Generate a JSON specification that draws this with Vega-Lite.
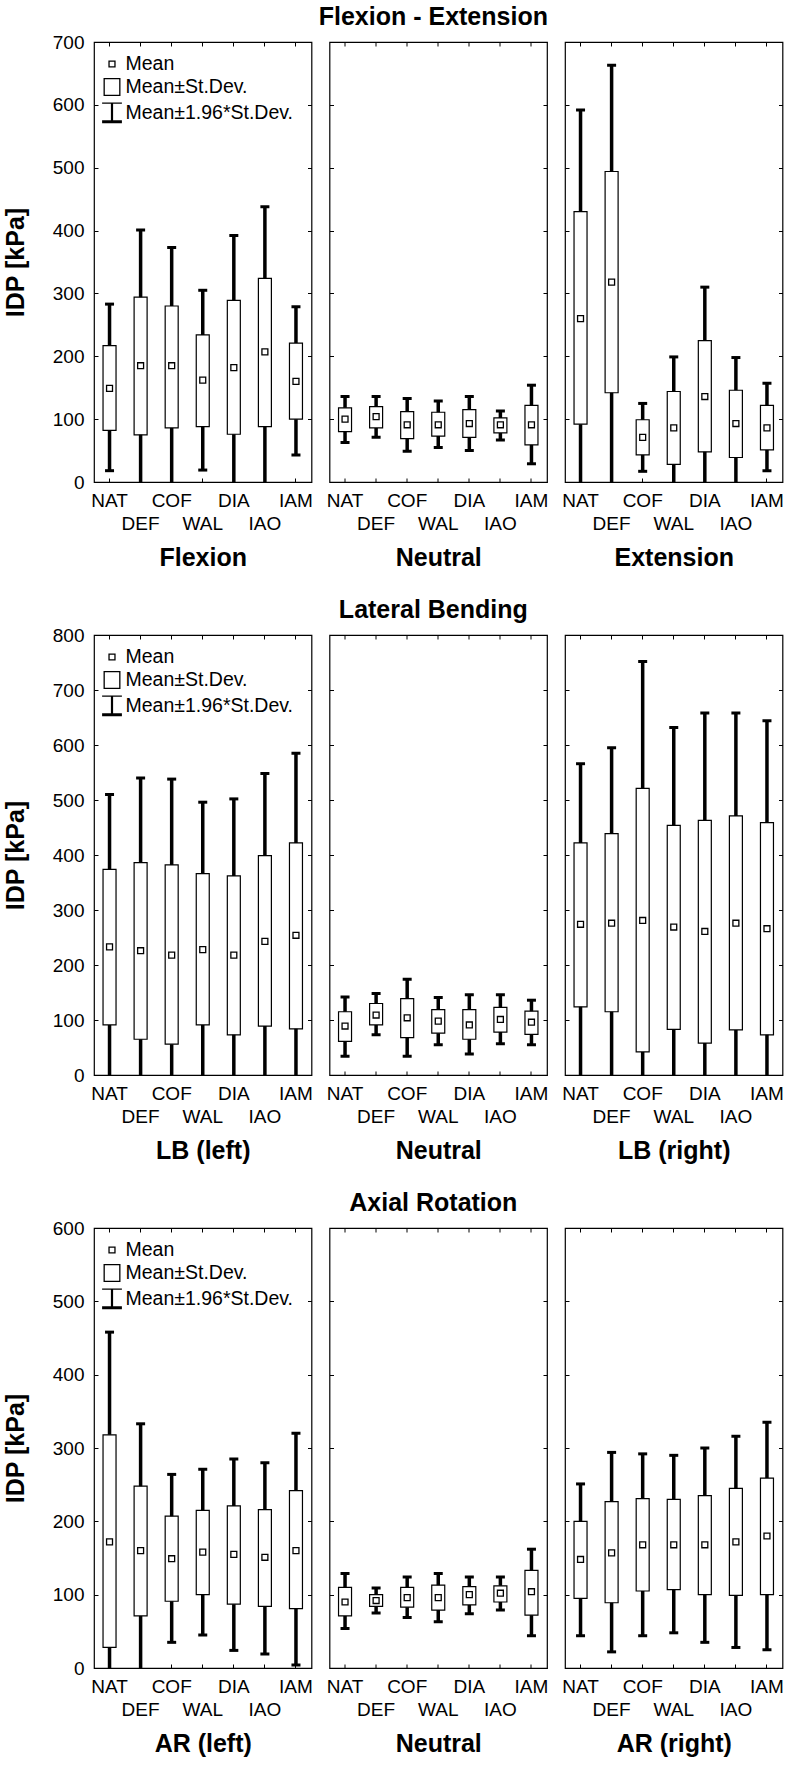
{
  "$schema": "https://vega.github.io/schema/vega-lite/v6.json",
  "padding": {"left": 2, "top": 5, "right": 0, "bottom": 0},
  "background": "white",
  "datasets": {
    "d": [
      {"g":"FE","p":"L","c":"NAT","m":149,"sl":82,"sh":217,"wl":18,"wh":283},
      {"g":"FE","p":"L","c":"DEF","m":185,"sl":75,"sh":294,"wl":-30,"wh":401},
      {"g":"FE","p":"L","c":"COF","m":185,"sl":86,"sh":280,"wl":-8,"wh":373},
      {"g":"FE","p":"L","c":"WAL","m":162,"sl":88,"sh":234,"wl":19,"wh":305},
      {"g":"FE","p":"L","c":"DIA","m":182,"sl":76,"sh":289,"wl":-35,"wh":392},
      {"g":"FE","p":"L","c":"IAO","m":207,"sl":88,"sh":324,"wl":-25,"wh":438},
      {"g":"FE","p":"L","c":"IAM","m":160,"sl":100,"sh":221,"wl":43,"wh":279},
      {"g":"FE","p":"N","c":"NAT","m":100,"sl":80,"sh":118,"wl":63,"wh":136},
      {"g":"FE","p":"N","c":"DEF","m":104,"sl":86,"sh":120,"wl":71,"wh":136},
      {"g":"FE","p":"N","c":"COF","m":91,"sl":69,"sh":112,"wl":49,"wh":133},
      {"g":"FE","p":"N","c":"WAL","m":91,"sl":73,"sh":111,"wl":55,"wh":129},
      {"g":"FE","p":"N","c":"DIA","m":93,"sl":71,"sh":115,"wl":50,"wh":136},
      {"g":"FE","p":"N","c":"IAO","m":91,"sl":78,"sh":102,"wl":67,"wh":113},
      {"g":"FE","p":"N","c":"IAM","m":91,"sl":59,"sh":122,"wl":29,"wh":154},
      {"g":"FE","p":"R","c":"NAT","m":260,"sl":92,"sh":430,"wl":-70,"wh":592},
      {"g":"FE","p":"R","c":"DEF","m":318,"sl":142,"sh":494,"wl":-30,"wh":663},
      {"g":"FE","p":"R","c":"COF","m":71,"sl":43,"sh":99,"wl":17,"wh":125},
      {"g":"FE","p":"R","c":"WAL","m":86,"sl":28,"sh":144,"wl":-27,"wh":199},
      {"g":"FE","p":"R","c":"DIA","m":136,"sl":48,"sh":225,"wl":-40,"wh":310},
      {"g":"FE","p":"R","c":"IAO","m":93,"sl":39,"sh":146,"wl":-12,"wh":198},
      {"g":"FE","p":"R","c":"IAM","m":86,"sl":51,"sh":122,"wl":18,"wh":157},
      {"g":"LB","p":"L","c":"NAT","m":233,"sl":91,"sh":374,"wl":-45,"wh":510},
      {"g":"LB","p":"L","c":"DEF","m":226,"sl":65,"sh":386,"wl":-90,"wh":540},
      {"g":"LB","p":"L","c":"COF","m":218,"sl":56,"sh":382,"wl":-100,"wh":538},
      {"g":"LB","p":"L","c":"WAL","m":228,"sl":91,"sh":366,"wl":-40,"wh":496},
      {"g":"LB","p":"L","c":"DIA","m":218,"sl":73,"sh":362,"wl":-65,"wh":502},
      {"g":"LB","p":"L","c":"IAO","m":243,"sl":89,"sh":399,"wl":-60,"wh":548},
      {"g":"LB","p":"L","c":"IAM","m":254,"sl":84,"sh":422,"wl":-75,"wh":585},
      {"g":"LB","p":"N","c":"NAT","m":89,"sl":61,"sh":115,"wl":34,"wh":142},
      {"g":"LB","p":"N","c":"DEF","m":109,"sl":91,"sh":130,"wl":73,"wh":148},
      {"g":"LB","p":"N","c":"COF","m":104,"sl":68,"sh":139,"wl":34,"wh":174},
      {"g":"LB","p":"N","c":"WAL","m":98,"sl":76,"sh":119,"wl":55,"wh":141},
      {"g":"LB","p":"N","c":"DIA","m":91,"sl":65,"sh":119,"wl":38,"wh":146},
      {"g":"LB","p":"N","c":"IAO","m":101,"sl":78,"sh":123,"wl":57,"wh":146},
      {"g":"LB","p":"N","c":"IAM","m":96,"sl":74,"sh":116,"wl":55,"wh":136},
      {"g":"LB","p":"R","c":"NAT","m":274,"sl":124,"sh":422,"wl":-20,"wh":566},
      {"g":"LB","p":"R","c":"DEF","m":276,"sl":115,"sh":439,"wl":-40,"wh":595},
      {"g":"LB","p":"R","c":"COF","m":281,"sl":42,"sh":521,"wl":-190,"wh":752},
      {"g":"LB","p":"R","c":"WAL","m":269,"sl":83,"sh":454,"wl":-95,"wh":632},
      {"g":"LB","p":"R","c":"DIA","m":261,"sl":58,"sh":463,"wl":-135,"wh":658},
      {"g":"LB","p":"R","c":"IAO","m":276,"sl":82,"sh":471,"wl":-105,"wh":658},
      {"g":"LB","p":"R","c":"IAM","m":266,"sl":73,"sh":459,"wl":-110,"wh":644},
      {"g":"AR","p":"L","c":"NAT","m":172,"sl":28,"sh":318,"wl":-110,"wh":458},
      {"g":"AR","p":"L","c":"DEF","m":160,"sl":71,"sh":248,"wl":-12,"wh":333},
      {"g":"AR","p":"L","c":"COF","m":149,"sl":91,"sh":207,"wl":35,"wh":264},
      {"g":"AR","p":"L","c":"WAL","m":158,"sl":100,"sh":215,"wl":45,"wh":271},
      {"g":"AR","p":"L","c":"DIA","m":155,"sl":87,"sh":221,"wl":24,"wh":285},
      {"g":"AR","p":"L","c":"IAO","m":151,"sl":84,"sh":216,"wl":19,"wh":280},
      {"g":"AR","p":"L","c":"IAM","m":160,"sl":81,"sh":242,"wl":4,"wh":320},
      {"g":"AR","p":"N","c":"NAT","m":90,"sl":71,"sh":110,"wl":54,"wh":129},
      {"g":"AR","p":"N","c":"DEF","m":92,"sl":84,"sh":100,"wl":75,"wh":109},
      {"g":"AR","p":"N","c":"COF","m":96,"sl":83,"sh":110,"wl":69,"wh":124},
      {"g":"AR","p":"N","c":"WAL","m":96,"sl":79,"sh":113,"wl":63,"wh":129},
      {"g":"AR","p":"N","c":"DIA","m":100,"sl":86,"sh":111,"wl":74,"wh":124},
      {"g":"AR","p":"N","c":"IAO","m":102,"sl":90,"sh":112,"wl":79,"wh":124},
      {"g":"AR","p":"N","c":"IAM","m":104,"sl":72,"sh":133,"wl":44,"wh":162},
      {"g":"AR","p":"R","c":"NAT","m":148,"sl":95,"sh":200,"wl":44,"wh":251},
      {"g":"AR","p":"R","c":"DEF","m":157,"sl":89,"sh":227,"wl":22,"wh":294},
      {"g":"AR","p":"R","c":"COF","m":168,"sl":105,"sh":231,"wl":44,"wh":292},
      {"g":"AR","p":"R","c":"WAL","m":168,"sl":107,"sh":230,"wl":48,"wh":290},
      {"g":"AR","p":"R","c":"DIA","m":168,"sl":100,"sh":235,"wl":35,"wh":300},
      {"g":"AR","p":"R","c":"IAO","m":172,"sl":99,"sh":245,"wl":28,"wh":316},
      {"g":"AR","p":"R","c":"IAM","m":180,"sl":100,"sh":259,"wl":25,"wh":335}
    ]
  },
  "data": {"name": "d"},
  "spacing": 27,
  "resolve": {"scale": {"shape": "independent", "y": "independent", "x": "independent"}, "legend": {"shape": "independent"}},
  "vconcat": [
    {
      "title": {"text": "Flexion - Extension", "anchor": "middle", "baseline": "alphabetic", "offset": -18, "dx": 40},
      "bounds": "flush",
      "spacing": 17.5,
      "resolve": {"scale": {"shape": "independent", "y": "independent", "x": "independent"}, "legend": {"shape": "independent"}},
      "hconcat": [
        {
          "width": 217.5, "height": 440,
          "transform": [{"filter": "datum.g == 'FE' && datum.p == 'L'"}],
          "layer": [
            {"mark": {"type": "rule", "strokeWidth": 3.5, "color": "black", "clip": true},
             "encoding": {
               "x": {"field": "c", "type": "nominal", "sort": ["NAT","DEF","COF","WAL","DIA","IAO","IAM"], "scale": {"type": "band", "paddingInner": 0, "paddingOuter": 0},
                     "axis": {"title": "Flexion", "labelExpr": "indexof(['DEF','WAL','IAO'], datum.label) >= 0 ? ['', datum.label] : datum.label", "labelLineHeight": 23, "labelPadding": 13, "labelAngle": 0, "titlePadding": 12}},
               "y": {"field": "wl", "type": "quantitative", "scale": {"domain": [0, 700], "nice": false, "zero": false},
                     "axis": {"title": "IDP [kPa]", "values": [0,100,200,300,400,500,600,700], "labelPadding": 14, "titlePadding": 24}},
               "y2": {"field": "wh"}}},
            {"mark": {"type": "tick", "thickness": 3, "size": 9, "color": "black", "opacity": 1, "clip": true},
             "encoding": {
               "x": {"field": "c", "type": "nominal", "sort": ["NAT","DEF","COF","WAL","DIA","IAO","IAM"], "scale": {"type": "band", "paddingInner": 0, "paddingOuter": 0}, "axis": null},
               "y": {"field": "wh", "type": "quantitative", "scale": {"domain": [0, 700], "nice": false, "zero": false}, "axis": null}}},
            {"mark": {"type": "tick", "thickness": 3, "size": 9, "color": "black", "opacity": 1, "clip": true},
             "encoding": {
               "x": {"field": "c", "type": "nominal", "sort": ["NAT","DEF","COF","WAL","DIA","IAO","IAM"], "scale": {"type": "band", "paddingInner": 0, "paddingOuter": 0}, "axis": null},
               "y": {"field": "wl", "type": "quantitative", "scale": {"domain": [0, 700], "nice": false, "zero": false}, "axis": null}}},
            {"mark": {"type": "bar", "width": 13, "fill": "white", "stroke": "black", "strokeWidth": 1.2, "clip": true},
             "encoding": {
               "x": {"field": "c", "type": "nominal", "sort": ["NAT","DEF","COF","WAL","DIA","IAO","IAM"], "scale": {"type": "band", "paddingInner": 0, "paddingOuter": 0},
                     "axis": {"orient": "top", "labels": false, "title": null}},
               "y": {"field": "sl", "type": "quantitative", "scale": {"domain": [0, 700], "nice": false, "zero": false},
                     "axis": {"orient": "right", "labels": false, "title": null, "values": [0,100,200,300,400,500,600,700]}},
               "y2": {"field": "sh"}}},
            {"mark": {"type": "point", "size": 324, "filled": false, "color": "black", "strokeWidth": 1.3, "opacity": 1},
             "encoding": {
               "x": {"field": "c", "type": "nominal", "sort": ["NAT","DEF","COF","WAL","DIA","IAO","IAM"], "scale": {"type": "band", "paddingInner": 0, "paddingOuter": 0}, "axis": null},
               "y": {"field": "m", "type": "quantitative", "scale": {"domain": [0, 700], "nice": false, "zero": false}, "axis": null},
               "shape": {"datum": "Mean", "scale": {"domain": ["Mean", "Mean±St.Dev.", "Mean±1.96*St.Dev."], "range": ["M-0.33,-0.33H0.33V0.33H-0.33Z", "M-0.87,-0.93H0.87V0.93H-0.87Z", "M-1.1,-1.1H1.1M-0.05,-1.1V1.1M0.05,-1.1V1.1M-1.1,0.88H1.1M-1.1,0.98H1.1M-1.1,1.08H1.1"]},
                         "legend": {"title": null, "orient": "none", "legendX": 8, "legendY": 12}}}}
          ],
          "resolve": {"axis": {"x": "independent", "y": "independent"}}
        },
        {
          "width": 217.5, "height": 440,
          "transform": [{"filter": "datum.g == 'FE' && datum.p == 'N'"}],
          "layer": [
            {"mark": {"type": "rule", "strokeWidth": 3.5, "color": "black", "clip": true},
             "encoding": {
               "x": {"field": "c", "type": "nominal", "sort": ["NAT","DEF","COF","WAL","DIA","IAO","IAM"], "scale": {"type": "band", "paddingInner": 0, "paddingOuter": 0},
                     "axis": {"title": "Neutral", "labelExpr": "indexof(['DEF','WAL','IAO'], datum.label) >= 0 ? ['', datum.label] : datum.label", "labelLineHeight": 23, "labelPadding": 13, "labelAngle": 0, "titlePadding": 12}},
               "y": {"field": "wl", "type": "quantitative", "scale": {"domain": [0, 700], "nice": false, "zero": false},
                     "axis": {"title": null, "labels": false, "values": [0,100,200,300,400,500,600,700]}},
               "y2": {"field": "wh"}}},
            {"mark": {"type": "tick", "thickness": 3, "size": 9, "color": "black", "opacity": 1, "clip": true},
             "encoding": {
               "x": {"field": "c", "type": "nominal", "sort": ["NAT","DEF","COF","WAL","DIA","IAO","IAM"], "scale": {"type": "band", "paddingInner": 0, "paddingOuter": 0}, "axis": null},
               "y": {"field": "wh", "type": "quantitative", "scale": {"domain": [0, 700], "nice": false, "zero": false}, "axis": null}}},
            {"mark": {"type": "tick", "thickness": 3, "size": 9, "color": "black", "opacity": 1, "clip": true},
             "encoding": {
               "x": {"field": "c", "type": "nominal", "sort": ["NAT","DEF","COF","WAL","DIA","IAO","IAM"], "scale": {"type": "band", "paddingInner": 0, "paddingOuter": 0}, "axis": null},
               "y": {"field": "wl", "type": "quantitative", "scale": {"domain": [0, 700], "nice": false, "zero": false}, "axis": null}}},
            {"mark": {"type": "bar", "width": 13, "fill": "white", "stroke": "black", "strokeWidth": 1.2, "clip": true},
             "encoding": {
               "x": {"field": "c", "type": "nominal", "sort": ["NAT","DEF","COF","WAL","DIA","IAO","IAM"], "scale": {"type": "band", "paddingInner": 0, "paddingOuter": 0},
                     "axis": {"orient": "top", "labels": false, "title": null}},
               "y": {"field": "sl", "type": "quantitative", "scale": {"domain": [0, 700], "nice": false, "zero": false},
                     "axis": {"orient": "right", "labels": false, "title": null, "values": [0,100,200,300,400,500,600,700]}},
               "y2": {"field": "sh"}}},
            {"mark": {"type": "point", "size": 324, "filled": false, "color": "black", "strokeWidth": 1.3, "opacity": 1, "shape": "M-0.33,-0.33H0.33V0.33H-0.33Z"},
             "encoding": {
               "x": {"field": "c", "type": "nominal", "sort": ["NAT","DEF","COF","WAL","DIA","IAO","IAM"], "scale": {"type": "band", "paddingInner": 0, "paddingOuter": 0}, "axis": null},
               "y": {"field": "m", "type": "quantitative", "scale": {"domain": [0, 700], "nice": false, "zero": false}, "axis": null}}}
          ],
          "resolve": {"axis": {"x": "independent", "y": "independent"}}
        },
        {
          "width": 217.5, "height": 440,
          "transform": [{"filter": "datum.g == 'FE' && datum.p == 'R'"}],
          "layer": [
            {"mark": {"type": "rule", "strokeWidth": 3.5, "color": "black", "clip": true},
             "encoding": {
               "x": {"field": "c", "type": "nominal", "sort": ["NAT","DEF","COF","WAL","DIA","IAO","IAM"], "scale": {"type": "band", "paddingInner": 0, "paddingOuter": 0},
                     "axis": {"title": "Extension", "labelExpr": "indexof(['DEF','WAL','IAO'], datum.label) >= 0 ? ['', datum.label] : datum.label", "labelLineHeight": 23, "labelPadding": 13, "labelAngle": 0, "titlePadding": 12}},
               "y": {"field": "wl", "type": "quantitative", "scale": {"domain": [0, 700], "nice": false, "zero": false},
                     "axis": {"title": null, "labels": false, "values": [0,100,200,300,400,500,600,700]}},
               "y2": {"field": "wh"}}},
            {"mark": {"type": "tick", "thickness": 3, "size": 9, "color": "black", "opacity": 1, "clip": true},
             "encoding": {
               "x": {"field": "c", "type": "nominal", "sort": ["NAT","DEF","COF","WAL","DIA","IAO","IAM"], "scale": {"type": "band", "paddingInner": 0, "paddingOuter": 0}, "axis": null},
               "y": {"field": "wh", "type": "quantitative", "scale": {"domain": [0, 700], "nice": false, "zero": false}, "axis": null}}},
            {"mark": {"type": "tick", "thickness": 3, "size": 9, "color": "black", "opacity": 1, "clip": true},
             "encoding": {
               "x": {"field": "c", "type": "nominal", "sort": ["NAT","DEF","COF","WAL","DIA","IAO","IAM"], "scale": {"type": "band", "paddingInner": 0, "paddingOuter": 0}, "axis": null},
               "y": {"field": "wl", "type": "quantitative", "scale": {"domain": [0, 700], "nice": false, "zero": false}, "axis": null}}},
            {"mark": {"type": "bar", "width": 13, "fill": "white", "stroke": "black", "strokeWidth": 1.2, "clip": true},
             "encoding": {
               "x": {"field": "c", "type": "nominal", "sort": ["NAT","DEF","COF","WAL","DIA","IAO","IAM"], "scale": {"type": "band", "paddingInner": 0, "paddingOuter": 0},
                     "axis": {"orient": "top", "labels": false, "title": null}},
               "y": {"field": "sl", "type": "quantitative", "scale": {"domain": [0, 700], "nice": false, "zero": false},
                     "axis": {"orient": "right", "labels": false, "title": null, "values": [0,100,200,300,400,500,600,700]}},
               "y2": {"field": "sh"}}},
            {"mark": {"type": "point", "size": 324, "filled": false, "color": "black", "strokeWidth": 1.3, "opacity": 1, "shape": "M-0.33,-0.33H0.33V0.33H-0.33Z"},
             "encoding": {
               "x": {"field": "c", "type": "nominal", "sort": ["NAT","DEF","COF","WAL","DIA","IAO","IAM"], "scale": {"type": "band", "paddingInner": 0, "paddingOuter": 0}, "axis": null},
               "y": {"field": "m", "type": "quantitative", "scale": {"domain": [0, 700], "nice": false, "zero": false}, "axis": null}}}
          ],
          "resolve": {"axis": {"x": "independent", "y": "independent"}}
        }
      ]
    },
    {
      "title": {"text": "Lateral Bending", "anchor": "middle", "baseline": "alphabetic", "offset": -18, "dx": 40},
      "bounds": "flush",
      "spacing": 17.5,
      "resolve": {"scale": {"shape": "independent", "y": "independent", "x": "independent"}, "legend": {"shape": "independent"}},
      "hconcat": [
        {
          "width": 217.5, "height": 440,
          "transform": [{"filter": "datum.g == 'LB' && datum.p == 'L'"}],
          "layer": [
            {"mark": {"type": "rule", "strokeWidth": 3.5, "color": "black", "clip": true},
             "encoding": {
               "x": {"field": "c", "type": "nominal", "sort": ["NAT","DEF","COF","WAL","DIA","IAO","IAM"], "scale": {"type": "band", "paddingInner": 0, "paddingOuter": 0},
                     "axis": {"title": "LB (left)", "labelExpr": "indexof(['DEF','WAL','IAO'], datum.label) >= 0 ? ['', datum.label] : datum.label", "labelLineHeight": 23, "labelPadding": 13, "labelAngle": 0, "titlePadding": 12}},
               "y": {"field": "wl", "type": "quantitative", "scale": {"domain": [0, 800], "nice": false, "zero": false},
                     "axis": {"title": "IDP [kPa]", "values": [0,100,200,300,400,500,600,700,800], "labelPadding": 14, "titlePadding": 24}},
               "y2": {"field": "wh"}}},
            {"mark": {"type": "tick", "thickness": 3, "size": 9, "color": "black", "opacity": 1, "clip": true},
             "encoding": {
               "x": {"field": "c", "type": "nominal", "sort": ["NAT","DEF","COF","WAL","DIA","IAO","IAM"], "scale": {"type": "band", "paddingInner": 0, "paddingOuter": 0}, "axis": null},
               "y": {"field": "wh", "type": "quantitative", "scale": {"domain": [0, 800], "nice": false, "zero": false}, "axis": null}}},
            {"mark": {"type": "tick", "thickness": 3, "size": 9, "color": "black", "opacity": 1, "clip": true},
             "encoding": {
               "x": {"field": "c", "type": "nominal", "sort": ["NAT","DEF","COF","WAL","DIA","IAO","IAM"], "scale": {"type": "band", "paddingInner": 0, "paddingOuter": 0}, "axis": null},
               "y": {"field": "wl", "type": "quantitative", "scale": {"domain": [0, 800], "nice": false, "zero": false}, "axis": null}}},
            {"mark": {"type": "bar", "width": 13, "fill": "white", "stroke": "black", "strokeWidth": 1.2, "clip": true},
             "encoding": {
               "x": {"field": "c", "type": "nominal", "sort": ["NAT","DEF","COF","WAL","DIA","IAO","IAM"], "scale": {"type": "band", "paddingInner": 0, "paddingOuter": 0},
                     "axis": {"orient": "top", "labels": false, "title": null}},
               "y": {"field": "sl", "type": "quantitative", "scale": {"domain": [0, 800], "nice": false, "zero": false},
                     "axis": {"orient": "right", "labels": false, "title": null, "values": [0,100,200,300,400,500,600,700,800]}},
               "y2": {"field": "sh"}}},
            {"mark": {"type": "point", "size": 324, "filled": false, "color": "black", "strokeWidth": 1.3, "opacity": 1},
             "encoding": {
               "x": {"field": "c", "type": "nominal", "sort": ["NAT","DEF","COF","WAL","DIA","IAO","IAM"], "scale": {"type": "band", "paddingInner": 0, "paddingOuter": 0}, "axis": null},
               "y": {"field": "m", "type": "quantitative", "scale": {"domain": [0, 800], "nice": false, "zero": false}, "axis": null},
               "shape": {"datum": "Mean", "scale": {"domain": ["Mean", "Mean±St.Dev.", "Mean±1.96*St.Dev."], "range": ["M-0.33,-0.33H0.33V0.33H-0.33Z", "M-0.87,-0.93H0.87V0.93H-0.87Z", "M-1.1,-1.1H1.1M-0.05,-1.1V1.1M0.05,-1.1V1.1M-1.1,0.88H1.1M-1.1,0.98H1.1M-1.1,1.08H1.1"]},
                         "legend": {"title": null, "orient": "none", "legendX": 8, "legendY": 12}}}}
          ],
          "resolve": {"axis": {"x": "independent", "y": "independent"}}
        },
        {
          "width": 217.5, "height": 440,
          "transform": [{"filter": "datum.g == 'LB' && datum.p == 'N'"}],
          "layer": [
            {"mark": {"type": "rule", "strokeWidth": 3.5, "color": "black", "clip": true},
             "encoding": {
               "x": {"field": "c", "type": "nominal", "sort": ["NAT","DEF","COF","WAL","DIA","IAO","IAM"], "scale": {"type": "band", "paddingInner": 0, "paddingOuter": 0},
                     "axis": {"title": "Neutral", "labelExpr": "indexof(['DEF','WAL','IAO'], datum.label) >= 0 ? ['', datum.label] : datum.label", "labelLineHeight": 23, "labelPadding": 13, "labelAngle": 0, "titlePadding": 12}},
               "y": {"field": "wl", "type": "quantitative", "scale": {"domain": [0, 800], "nice": false, "zero": false},
                     "axis": {"title": null, "labels": false, "values": [0,100,200,300,400,500,600,700,800]}},
               "y2": {"field": "wh"}}},
            {"mark": {"type": "tick", "thickness": 3, "size": 9, "color": "black", "opacity": 1, "clip": true},
             "encoding": {
               "x": {"field": "c", "type": "nominal", "sort": ["NAT","DEF","COF","WAL","DIA","IAO","IAM"], "scale": {"type": "band", "paddingInner": 0, "paddingOuter": 0}, "axis": null},
               "y": {"field": "wh", "type": "quantitative", "scale": {"domain": [0, 800], "nice": false, "zero": false}, "axis": null}}},
            {"mark": {"type": "tick", "thickness": 3, "size": 9, "color": "black", "opacity": 1, "clip": true},
             "encoding": {
               "x": {"field": "c", "type": "nominal", "sort": ["NAT","DEF","COF","WAL","DIA","IAO","IAM"], "scale": {"type": "band", "paddingInner": 0, "paddingOuter": 0}, "axis": null},
               "y": {"field": "wl", "type": "quantitative", "scale": {"domain": [0, 800], "nice": false, "zero": false}, "axis": null}}},
            {"mark": {"type": "bar", "width": 13, "fill": "white", "stroke": "black", "strokeWidth": 1.2, "clip": true},
             "encoding": {
               "x": {"field": "c", "type": "nominal", "sort": ["NAT","DEF","COF","WAL","DIA","IAO","IAM"], "scale": {"type": "band", "paddingInner": 0, "paddingOuter": 0},
                     "axis": {"orient": "top", "labels": false, "title": null}},
               "y": {"field": "sl", "type": "quantitative", "scale": {"domain": [0, 800], "nice": false, "zero": false},
                     "axis": {"orient": "right", "labels": false, "title": null, "values": [0,100,200,300,400,500,600,700,800]}},
               "y2": {"field": "sh"}}},
            {"mark": {"type": "point", "size": 324, "filled": false, "color": "black", "strokeWidth": 1.3, "opacity": 1, "shape": "M-0.33,-0.33H0.33V0.33H-0.33Z"},
             "encoding": {
               "x": {"field": "c", "type": "nominal", "sort": ["NAT","DEF","COF","WAL","DIA","IAO","IAM"], "scale": {"type": "band", "paddingInner": 0, "paddingOuter": 0}, "axis": null},
               "y": {"field": "m", "type": "quantitative", "scale": {"domain": [0, 800], "nice": false, "zero": false}, "axis": null}}}
          ],
          "resolve": {"axis": {"x": "independent", "y": "independent"}}
        },
        {
          "width": 217.5, "height": 440,
          "transform": [{"filter": "datum.g == 'LB' && datum.p == 'R'"}],
          "layer": [
            {"mark": {"type": "rule", "strokeWidth": 3.5, "color": "black", "clip": true},
             "encoding": {
               "x": {"field": "c", "type": "nominal", "sort": ["NAT","DEF","COF","WAL","DIA","IAO","IAM"], "scale": {"type": "band", "paddingInner": 0, "paddingOuter": 0},
                     "axis": {"title": "LB (right)", "labelExpr": "indexof(['DEF','WAL','IAO'], datum.label) >= 0 ? ['', datum.label] : datum.label", "labelLineHeight": 23, "labelPadding": 13, "labelAngle": 0, "titlePadding": 12}},
               "y": {"field": "wl", "type": "quantitative", "scale": {"domain": [0, 800], "nice": false, "zero": false},
                     "axis": {"title": null, "labels": false, "values": [0,100,200,300,400,500,600,700,800]}},
               "y2": {"field": "wh"}}},
            {"mark": {"type": "tick", "thickness": 3, "size": 9, "color": "black", "opacity": 1, "clip": true},
             "encoding": {
               "x": {"field": "c", "type": "nominal", "sort": ["NAT","DEF","COF","WAL","DIA","IAO","IAM"], "scale": {"type": "band", "paddingInner": 0, "paddingOuter": 0}, "axis": null},
               "y": {"field": "wh", "type": "quantitative", "scale": {"domain": [0, 800], "nice": false, "zero": false}, "axis": null}}},
            {"mark": {"type": "tick", "thickness": 3, "size": 9, "color": "black", "opacity": 1, "clip": true},
             "encoding": {
               "x": {"field": "c", "type": "nominal", "sort": ["NAT","DEF","COF","WAL","DIA","IAO","IAM"], "scale": {"type": "band", "paddingInner": 0, "paddingOuter": 0}, "axis": null},
               "y": {"field": "wl", "type": "quantitative", "scale": {"domain": [0, 800], "nice": false, "zero": false}, "axis": null}}},
            {"mark": {"type": "bar", "width": 13, "fill": "white", "stroke": "black", "strokeWidth": 1.2, "clip": true},
             "encoding": {
               "x": {"field": "c", "type": "nominal", "sort": ["NAT","DEF","COF","WAL","DIA","IAO","IAM"], "scale": {"type": "band", "paddingInner": 0, "paddingOuter": 0},
                     "axis": {"orient": "top", "labels": false, "title": null}},
               "y": {"field": "sl", "type": "quantitative", "scale": {"domain": [0, 800], "nice": false, "zero": false},
                     "axis": {"orient": "right", "labels": false, "title": null, "values": [0,100,200,300,400,500,600,700,800]}},
               "y2": {"field": "sh"}}},
            {"mark": {"type": "point", "size": 324, "filled": false, "color": "black", "strokeWidth": 1.3, "opacity": 1, "shape": "M-0.33,-0.33H0.33V0.33H-0.33Z"},
             "encoding": {
               "x": {"field": "c", "type": "nominal", "sort": ["NAT","DEF","COF","WAL","DIA","IAO","IAM"], "scale": {"type": "band", "paddingInner": 0, "paddingOuter": 0}, "axis": null},
               "y": {"field": "m", "type": "quantitative", "scale": {"domain": [0, 800], "nice": false, "zero": false}, "axis": null}}}
          ],
          "resolve": {"axis": {"x": "independent", "y": "independent"}}
        }
      ]
    },
    {
      "title": {"text": "Axial Rotation", "anchor": "middle", "baseline": "alphabetic", "offset": -18, "dx": 40},
      "bounds": "flush",
      "spacing": 17.5,
      "resolve": {"scale": {"shape": "independent", "y": "independent", "x": "independent"}, "legend": {"shape": "independent"}},
      "hconcat": [
        {
          "width": 217.5, "height": 440,
          "transform": [{"filter": "datum.g == 'AR' && datum.p == 'L'"}],
          "layer": [
            {"mark": {"type": "rule", "strokeWidth": 3.5, "color": "black", "clip": true},
             "encoding": {
               "x": {"field": "c", "type": "nominal", "sort": ["NAT","DEF","COF","WAL","DIA","IAO","IAM"], "scale": {"type": "band", "paddingInner": 0, "paddingOuter": 0},
                     "axis": {"title": "AR (left)", "labelExpr": "indexof(['DEF','WAL','IAO'], datum.label) >= 0 ? ['', datum.label] : datum.label", "labelLineHeight": 23, "labelPadding": 13, "labelAngle": 0, "titlePadding": 12}},
               "y": {"field": "wl", "type": "quantitative", "scale": {"domain": [0, 600], "nice": false, "zero": false},
                     "axis": {"title": "IDP [kPa]", "values": [0,100,200,300,400,500,600], "labelPadding": 14, "titlePadding": 24}},
               "y2": {"field": "wh"}}},
            {"mark": {"type": "tick", "thickness": 3, "size": 9, "color": "black", "opacity": 1, "clip": true},
             "encoding": {
               "x": {"field": "c", "type": "nominal", "sort": ["NAT","DEF","COF","WAL","DIA","IAO","IAM"], "scale": {"type": "band", "paddingInner": 0, "paddingOuter": 0}, "axis": null},
               "y": {"field": "wh", "type": "quantitative", "scale": {"domain": [0, 600], "nice": false, "zero": false}, "axis": null}}},
            {"mark": {"type": "tick", "thickness": 3, "size": 9, "color": "black", "opacity": 1, "clip": true},
             "encoding": {
               "x": {"field": "c", "type": "nominal", "sort": ["NAT","DEF","COF","WAL","DIA","IAO","IAM"], "scale": {"type": "band", "paddingInner": 0, "paddingOuter": 0}, "axis": null},
               "y": {"field": "wl", "type": "quantitative", "scale": {"domain": [0, 600], "nice": false, "zero": false}, "axis": null}}},
            {"mark": {"type": "bar", "width": 13, "fill": "white", "stroke": "black", "strokeWidth": 1.2, "clip": true},
             "encoding": {
               "x": {"field": "c", "type": "nominal", "sort": ["NAT","DEF","COF","WAL","DIA","IAO","IAM"], "scale": {"type": "band", "paddingInner": 0, "paddingOuter": 0},
                     "axis": {"orient": "top", "labels": false, "title": null}},
               "y": {"field": "sl", "type": "quantitative", "scale": {"domain": [0, 600], "nice": false, "zero": false},
                     "axis": {"orient": "right", "labels": false, "title": null, "values": [0,100,200,300,400,500,600]}},
               "y2": {"field": "sh"}}},
            {"mark": {"type": "point", "size": 324, "filled": false, "color": "black", "strokeWidth": 1.3, "opacity": 1},
             "encoding": {
               "x": {"field": "c", "type": "nominal", "sort": ["NAT","DEF","COF","WAL","DIA","IAO","IAM"], "scale": {"type": "band", "paddingInner": 0, "paddingOuter": 0}, "axis": null},
               "y": {"field": "m", "type": "quantitative", "scale": {"domain": [0, 600], "nice": false, "zero": false}, "axis": null},
               "shape": {"datum": "Mean", "scale": {"domain": ["Mean", "Mean±St.Dev.", "Mean±1.96*St.Dev."], "range": ["M-0.33,-0.33H0.33V0.33H-0.33Z", "M-0.87,-0.93H0.87V0.93H-0.87Z", "M-1.1,-1.1H1.1M-0.05,-1.1V1.1M0.05,-1.1V1.1M-1.1,0.88H1.1M-1.1,0.98H1.1M-1.1,1.08H1.1"]},
                         "legend": {"title": null, "orient": "none", "legendX": 8, "legendY": 12}}}}
          ],
          "resolve": {"axis": {"x": "independent", "y": "independent"}}
        },
        {
          "width": 217.5, "height": 440,
          "transform": [{"filter": "datum.g == 'AR' && datum.p == 'N'"}],
          "layer": [
            {"mark": {"type": "rule", "strokeWidth": 3.5, "color": "black", "clip": true},
             "encoding": {
               "x": {"field": "c", "type": "nominal", "sort": ["NAT","DEF","COF","WAL","DIA","IAO","IAM"], "scale": {"type": "band", "paddingInner": 0, "paddingOuter": 0},
                     "axis": {"title": "Neutral", "labelExpr": "indexof(['DEF','WAL','IAO'], datum.label) >= 0 ? ['', datum.label] : datum.label", "labelLineHeight": 23, "labelPadding": 13, "labelAngle": 0, "titlePadding": 12}},
               "y": {"field": "wl", "type": "quantitative", "scale": {"domain": [0, 600], "nice": false, "zero": false},
                     "axis": {"title": null, "labels": false, "values": [0,100,200,300,400,500,600]}},
               "y2": {"field": "wh"}}},
            {"mark": {"type": "tick", "thickness": 3, "size": 9, "color": "black", "opacity": 1, "clip": true},
             "encoding": {
               "x": {"field": "c", "type": "nominal", "sort": ["NAT","DEF","COF","WAL","DIA","IAO","IAM"], "scale": {"type": "band", "paddingInner": 0, "paddingOuter": 0}, "axis": null},
               "y": {"field": "wh", "type": "quantitative", "scale": {"domain": [0, 600], "nice": false, "zero": false}, "axis": null}}},
            {"mark": {"type": "tick", "thickness": 3, "size": 9, "color": "black", "opacity": 1, "clip": true},
             "encoding": {
               "x": {"field": "c", "type": "nominal", "sort": ["NAT","DEF","COF","WAL","DIA","IAO","IAM"], "scale": {"type": "band", "paddingInner": 0, "paddingOuter": 0}, "axis": null},
               "y": {"field": "wl", "type": "quantitative", "scale": {"domain": [0, 600], "nice": false, "zero": false}, "axis": null}}},
            {"mark": {"type": "bar", "width": 13, "fill": "white", "stroke": "black", "strokeWidth": 1.2, "clip": true},
             "encoding": {
               "x": {"field": "c", "type": "nominal", "sort": ["NAT","DEF","COF","WAL","DIA","IAO","IAM"], "scale": {"type": "band", "paddingInner": 0, "paddingOuter": 0},
                     "axis": {"orient": "top", "labels": false, "title": null}},
               "y": {"field": "sl", "type": "quantitative", "scale": {"domain": [0, 600], "nice": false, "zero": false},
                     "axis": {"orient": "right", "labels": false, "title": null, "values": [0,100,200,300,400,500,600]}},
               "y2": {"field": "sh"}}},
            {"mark": {"type": "point", "size": 324, "filled": false, "color": "black", "strokeWidth": 1.3, "opacity": 1, "shape": "M-0.33,-0.33H0.33V0.33H-0.33Z"},
             "encoding": {
               "x": {"field": "c", "type": "nominal", "sort": ["NAT","DEF","COF","WAL","DIA","IAO","IAM"], "scale": {"type": "band", "paddingInner": 0, "paddingOuter": 0}, "axis": null},
               "y": {"field": "m", "type": "quantitative", "scale": {"domain": [0, 600], "nice": false, "zero": false}, "axis": null}}}
          ],
          "resolve": {"axis": {"x": "independent", "y": "independent"}}
        },
        {
          "width": 217.5, "height": 440,
          "transform": [{"filter": "datum.g == 'AR' && datum.p == 'R'"}],
          "layer": [
            {"mark": {"type": "rule", "strokeWidth": 3.5, "color": "black", "clip": true},
             "encoding": {
               "x": {"field": "c", "type": "nominal", "sort": ["NAT","DEF","COF","WAL","DIA","IAO","IAM"], "scale": {"type": "band", "paddingInner": 0, "paddingOuter": 0},
                     "axis": {"title": "AR (right)", "labelExpr": "indexof(['DEF','WAL','IAO'], datum.label) >= 0 ? ['', datum.label] : datum.label", "labelLineHeight": 23, "labelPadding": 13, "labelAngle": 0, "titlePadding": 12}},
               "y": {"field": "wl", "type": "quantitative", "scale": {"domain": [0, 600], "nice": false, "zero": false},
                     "axis": {"title": null, "labels": false, "values": [0,100,200,300,400,500,600]}},
               "y2": {"field": "wh"}}},
            {"mark": {"type": "tick", "thickness": 3, "size": 9, "color": "black", "opacity": 1, "clip": true},
             "encoding": {
               "x": {"field": "c", "type": "nominal", "sort": ["NAT","DEF","COF","WAL","DIA","IAO","IAM"], "scale": {"type": "band", "paddingInner": 0, "paddingOuter": 0}, "axis": null},
               "y": {"field": "wh", "type": "quantitative", "scale": {"domain": [0, 600], "nice": false, "zero": false}, "axis": null}}},
            {"mark": {"type": "tick", "thickness": 3, "size": 9, "color": "black", "opacity": 1, "clip": true},
             "encoding": {
               "x": {"field": "c", "type": "nominal", "sort": ["NAT","DEF","COF","WAL","DIA","IAO","IAM"], "scale": {"type": "band", "paddingInner": 0, "paddingOuter": 0}, "axis": null},
               "y": {"field": "wl", "type": "quantitative", "scale": {"domain": [0, 600], "nice": false, "zero": false}, "axis": null}}},
            {"mark": {"type": "bar", "width": 13, "fill": "white", "stroke": "black", "strokeWidth": 1.2, "clip": true},
             "encoding": {
               "x": {"field": "c", "type": "nominal", "sort": ["NAT","DEF","COF","WAL","DIA","IAO","IAM"], "scale": {"type": "band", "paddingInner": 0, "paddingOuter": 0},
                     "axis": {"orient": "top", "labels": false, "title": null}},
               "y": {"field": "sl", "type": "quantitative", "scale": {"domain": [0, 600], "nice": false, "zero": false},
                     "axis": {"orient": "right", "labels": false, "title": null, "values": [0,100,200,300,400,500,600]}},
               "y2": {"field": "sh"}}},
            {"mark": {"type": "point", "size": 324, "filled": false, "color": "black", "strokeWidth": 1.3, "opacity": 1, "shape": "M-0.33,-0.33H0.33V0.33H-0.33Z"},
             "encoding": {
               "x": {"field": "c", "type": "nominal", "sort": ["NAT","DEF","COF","WAL","DIA","IAO","IAM"], "scale": {"type": "band", "paddingInner": 0, "paddingOuter": 0}, "axis": null},
               "y": {"field": "m", "type": "quantitative", "scale": {"domain": [0, 600], "nice": false, "zero": false}, "axis": null}}}
          ],
          "resolve": {"axis": {"x": "independent", "y": "independent"}}
        }
      ]
    }
  ],
  "config": {
    "font": "Liberation Sans",
    "view": {"stroke": "black", "strokeWidth": 1.2},
    "axis": {"labelFont": "Liberation Sans", "labelFontSize": 19, "labelColor": "black", "titleFont": "Liberation Sans", "titleFontSize": 25, "titleFontWeight": "bold", "titleColor": "black", "tickColor": "black", "tickSize": -4, "tickWidth": 1, "domain": false, "grid": false},
    "title": {"font": "Liberation Sans", "fontSize": 25, "fontWeight": "bold", "color": "black"},
    "legend": {"labelFont": "Liberation Sans", "labelFontSize": 19.5, "labelColor": "black", "labelLimit": 400, "symbolSize": 324, "symbolStrokeColor": "black", "symbolStrokeWidth": 1.3, "labelOffset": 3.5, "rowPadding": 2, "padding": 0}
  }
}
